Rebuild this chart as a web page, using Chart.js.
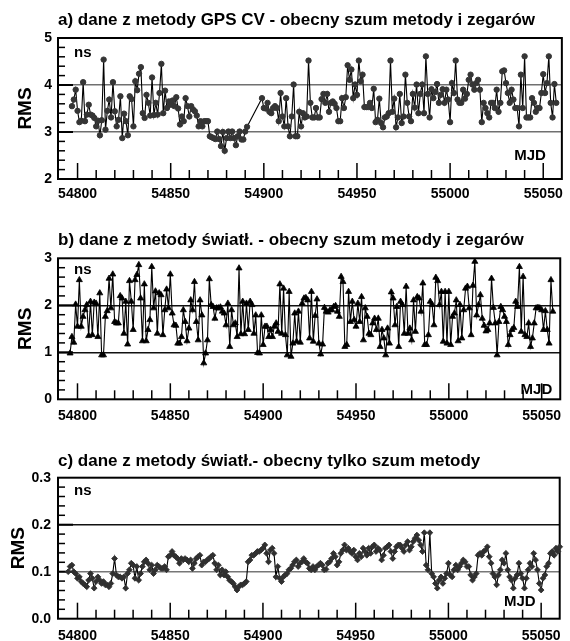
<!DOCTYPE html>
<html><head><meta charset="utf-8">
<script src="https://cdn.jsdelivr.net/npm/chart.js@4.4.1/dist/chart.umd.min.js"></script>
<style>
html,body{margin:0;padding:0;background:#fff;}
#wrap{position:relative;width:570px;height:641px;overflow:hidden;background:#fff;}
canvas{position:absolute;left:0;}
</style></head><body>
<div id="wrap">
<canvas id="cA" width="570" height="215" style="top:0px"></canvas>
<canvas id="cB" width="570" height="215" style="top:215px"></canvas>
<canvas id="cC" width="570" height="211" style="top:430px"></canvas>
</div>
<script>
// ---------- data ----------
const xTickLabels = [54800, 54850, 54900, 54950, 55000, 55050];
const yTicksA = [2, 3, 4, 5];
const yTicksB = [0, 1, 2, 3];
const yTicksC = [0.0, 0.1, 0.2, 0.3];

const titleA = 'a) dane z metody GPS CV - obecny szum metody i zegarów';
const titleB = 'b) dane z metody światł. - obecny szum metody i zegarów';
const titleC = 'c) dane z metody światł.- obecny tylko szum metody';

const mjdA = [
54797,54798,54799,54800,54801,54802,54803,54804,54805,54806,
54807,54808,54809,54810,54811,54812,54813,54814,54815,54816,
54817,54818,54819,54820,54821,54822,54823,54824,54825,54826,
54827,54828,54829,54830,54831,54832,54833,54834,54835,54836,
54837,54838,54839,54840,54841,54842,54843,54844,54845,54846,
54847,54848,54849,54850,54851,54852,54853,54854,54855,54856,
54857,54858,54859,54860,54861,54862,54863,54864,54865,54866,
54867,54868,54869,54870,54871,54872,54873,54874,54875,54876,
54877,54878,54879,54880,54881,54882,54883,54884,54885,54886,
54887,54888,54889,54890,54891,
54899,54900,54901,54902,54903,54904,54905,54906,54907,54908,
54909,54910,54911,54912,54913,54914,54915,54916,54917,54918,
54919,54920,54921,54922,54923,54924,
54925,54926,54927,54928,54929,54930,54931,54932,54933,54934,
54935,54936,54937,54938,54939,54940,54941,54942,54943,54944,
54945,54946,54947,54948,54949,54950,54951,54952,54953,54954,
54955,54956,54957,54958,54959,54960,54961,54962,54963,54964,
54965,54966,54967,54968,54969,54970,54971,54972,54973,54974,
54975,54976,54977,54978,54979,54980,54981,54982,54983,54984,
54985,54986,54987,54988,54989,54990,54991,54992,54993,54994,
54995,54996,54997,54998,54999,55000,55001,55002,55003,55004,
55005,55006,55007,55008,55009,55010,55011,55012,55013,55014,
55015,55016,55017,55018,55019,55020,55021,55022,55023,55024,
55025,55026,55027,55028,55029,55030,55031,55032,55033,55034,
55035,55036,55037,55038,55039,55040,55041,55042,55043,55044,
55045,55046,55047,55048,55049,55050,55051,55052,55053,55054,
55055,55056,55057];
const rmsA = [
3.55,3.69,3.90,3.45,3.21,3.24,4.06,3.23,3.37,3.58,
3.37,3.35,3.30,3.12,3.24,2.93,3.25,4.54,3.05,3.45,
3.69,3.31,4.06,3.44,3.12,3.26,3.76,2.87,3.39,3.23,
2.93,3.76,3.70,3.12,4.08,3.89,4.24,4.38,3.40,3.30,
3.79,3.62,3.35,4.16,3.36,3.62,3.37,3.83,4.45,3.40,
3.88,3.51,3.65,3.58,3.67,3.55,3.74,3.50,3.16,3.33,
3.23,3.72,3.55,3.33,3.55,3.48,3.44,3.35,3.12,3.23,
3.12,3.23,3.23,3.23,2.91,2.89,2.87,2.85,3.01,2.85,
2.70,3.00,2.60,2.87,3.01,2.87,3.01,2.87,2.72,2.91,
3.01,2.84,2.84,3.01,3.11,
3.72,3.51,3.50,3.62,3.43,3.40,3.51,3.55,3.51,3.23,
3.83,3.33,3.12,3.72,3.12,2.91,3.33,4.01,2.91,2.91,
3.43,3.12,3.40,3.31,3.33,4.52,
3.62,3.31,3.31,3.51,3.31,3.31,3.70,3.81,3.62,3.81,
3.43,3.62,3.65,3.60,3.51,3.23,3.23,3.72,3.51,3.74,
4.42,4.11,4.33,3.72,4.01,3.79,4.52,4.08,4.22,3.53,
3.53,3.53,3.62,3.51,3.92,3.21,3.26,3.71,3.19,3.10,
3.31,3.33,3.40,4.52,3.43,3.71,3.10,3.31,3.81,3.19,
3.33,4.22,3.62,3.33,3.23,3.81,3.52,4.01,3.40,3.81,
4.01,3.40,4.61,3.81,3.31,3.91,3.72,3.85,4.02,3.62,
3.79,3.91,3.62,3.90,3.69,3.21,4.04,3.83,4.52,3.69,
3.62,3.62,3.90,3.71,3.81,4.11,4.22,4.01,3.90,4.04,
4.11,3.90,3.21,3.62,3.51,3.40,3.31,3.62,3.62,3.51,
3.90,3.43,3.62,4.29,4.31,4.04,3.83,3.62,3.90,3.69,
3.51,3.51,3.12,4.22,3.51,4.61,3.31,3.31,3.31,3.72,
3.62,3.43,3.51,3.51,3.83,4.23,3.83,4.04,4.61,3.62,
3.31,4.02,3.62];

const mjdB = [
54796,54797,54798,54799,54800,54801,54802,54803,54804,54805,
54806,54807,54808,54809,54810,54811,54812,54813,54814,54815,
54816,54817,54818,54819,54820,54821,54822,54823,54824,54825,
54826,54827,54828,54829,54830,54831,54832,54833,54834,54835,
54836,54837,54838,54839,54840,54841,54842,54843,54844,54845,
54846,54847,54848,54849,54850,54851,54852,54853,54854,54855,
54856,54857,54858,54859,54860,54861,54862,54863,54864,54865,
54866,54867,54868,54869,54870,54871,54872,54873,54874,54875,
54876,54877,54878,54879,54880,54881,54882,54883,54884,54885,
54886,54887,54888,54889,54890,54891,54892,54893,54894,54895,
54896,54897,54898,54899,54900,54901,54902,54903,54904,54905,
54906,54907,54908,54909,54910,54911,54912,54913,54914,54915,
54916,54917,54918,54919,54920,54921,54922,54923,
54924,54925,54926,54927,54928,54929,54930,54931,54932,54933,
54934,54935,54936,54937,54938,54939,54940,54941,54942,54943,
54944,54945,54946,54947,54948,54949,54950,54951,54952,54953,
54954,54955,54956,54957,54958,54959,54960,54961,54962,54963,
54964,54965,54966,54967,54968,54969,54970,54971,54972,54973,
54974,54975,54976,54977,54978,54979,54980,54981,54982,54983,
54984,54985,54986,54987,54988,54989,54990,54991,54992,54993,
54994,54995,54996,54997,54998,54999,55000,55001,55002,55003,
55004,55005,55006,55007,55008,55009,55010,55011,55012,55013,
55014,55015,55016,55017,55018,55019,55020,55021,55022,55023,
55024,55025,55026,55027,55028,55029,55030,55031,55032,55033,
55034,55035,55036,55037,55038,55039,55040,55041,55042,55043,
55044,55045,55046,55047,55048,55049,55050,55051,55052,55053,
55054,55055,55056];
const rmsB = [
0.98,1.33,1.21,2.02,1.55,2.54,1.55,1.76,1.90,2.01,
1.35,2.08,1.37,2.06,2.04,1.33,2.26,0.94,0.94,1.76,
1.88,2.57,1.94,2.66,1.65,1.62,1.62,2.20,2.15,1.40,
2.08,1.17,2.52,2.08,1.48,2.54,2.65,2.86,2.15,1.24,
2.45,1.24,1.48,1.69,2.82,1.94,2.30,1.40,2.26,2.22,
1.37,1.90,2.34,1.94,2.66,1.83,1.58,1.57,1.19,1.19,
1.33,1.90,1.65,1.24,1.51,2.11,1.90,2.50,1.65,1.26,
2.11,1.79,0.77,0.98,1.26,2.56,2.01,1.97,1.72,1.94,
1.94,1.96,1.87,1.83,1.58,2.04,1.12,1.90,1.58,1.62,
1.33,2.79,1.39,2.08,1.39,2.04,1.48,2.08,2.01,1.40,
1.79,0.99,0.98,1.79,1.16,1.55,1.55,1.33,1.48,1.33,
1.55,1.62,1.44,2.45,1.40,2.36,1.37,0.94,2.29,0.91,
1.19,1.83,1.23,1.87,1.21,2.04,2.15,2.16,
2.11,1.30,2.29,1.23,1.78,2.13,1.19,0.96,1.17,1.95,
1.87,1.85,1.90,1.90,1.97,1.99,1.87,1.76,2.61,2.50,
1.12,1.16,2.29,1.65,2.08,1.69,1.55,2.04,1.65,2.18,
1.26,1.94,1.76,1.40,1.37,1.62,1.72,1.48,1.72,1.12,
1.48,1.30,0.94,1.51,1.19,2.28,2.15,1.58,1.97,1.12,
2.08,2.01,1.40,2.40,1.40,1.51,1.26,2.11,1.44,2.18,
2.15,1.87,2.47,1.16,1.16,1.37,2.08,2.01,1.58,2.59,
2.52,2.01,2.29,1.23,2.29,1.19,2.29,1.16,1.76,1.83,
2.11,1.24,2.01,1.30,1.90,2.36,2.40,1.94,1.37,2.42,
2.93,1.79,2.01,2.22,1.72,1.57,1.45,1.48,1.62,2.57,
1.95,1.62,0.94,1.65,1.97,1.90,1.76,1.65,1.16,1.37,
1.48,1.52,2.08,1.97,2.82,1.44,2.61,1.37,1.33,1.62,
1.12,1.30,1.62,1.94,1.95,1.94,1.90,1.48,1.88,1.48,
1.19,2.54,1.87];

const mjdC = [
54795,54796,54797,54798,54799,54800,54801,54802,54803,54804,
54805,54806,54807,54808,54809,54810,54811,54812,54813,54814,
54815,54816,54817,54818,54819,54820,54821,54822,54823,54824,
54825,54826,54827,54828,54829,54830,54831,54832,54833,54834,
54835,54836,54837,54838,54839,54840,54841,54842,54843,54844,
54845,54846,54847,54848,54849,54850,54851,54852,54853,54854,
54855,54856,54857,54858,54859,54860,54861,54862,54863,54864,
54865,54866,54867,54868,54869,54870,54871,54872,54873,54874,
54875,54876,54877,54878,54879,54880,54881,54882,54883,54884,
54885,54886,54887,54888,54889,54890,54891,54892,54893,54894,
54895,54896,54897,54898,54899,54900,54901,54902,54903,54904,
54905,54906,54907,54908,54909,54910,54911,54912,54913,54914,
54915,54916,54917,54918,54919,54920,54921,54922,54923,54924,
54925,
54926,54927,54928,54929,54930,54931,54932,54933,54934,54935,
54936,54937,54938,54939,54940,54941,54942,54943,54944,54945,
54946,54947,54948,54949,54950,54951,54952,54953,54954,54955,
54956,54957,54958,54959,54960,54961,54962,54963,54964,54965,
54966,54967,54968,54969,54970,54971,54972,54973,54974,54975,
54976,54977,54978,54979,54980,54981,54982,54983,54984,54985,
54986,54987,54988,54989,54990,
54991,54992,54993,54994,54995,54996,54997,54998,54999,55000,
55001,55002,55003,55004,55005,55006,55007,55008,55009,55010,
55011,55012,55013,55014,55015,55016,55017,55018,55019,55020,
55021,55022,55023,55024,55025,55026,55027,55028,55029,55030,
55031,55032,55033,55034,55035,55036,55037,55038,55039,55040,
55041,55042,55043,55044,55045,55046,55047,55048,55049,55050,
55051,55052,55053,55054,55055,55056,55057,55058,55059,55060];
const rmsC = [
0.100,0.111,0.114,0.100,0.096,0.086,0.089,0.079,0.075,0.072,
0.068,0.082,0.096,0.086,0.065,0.079,0.089,0.082,0.075,0.079,
0.072,0.072,0.068,0.075,0.096,0.128,0.093,0.089,0.089,0.086,
0.089,0.065,0.096,0.104,0.118,0.114,0.086,0.111,0.082,0.096,
0.111,0.121,0.125,0.118,0.104,0.114,0.096,0.104,0.114,0.111,
0.107,0.107,0.111,0.104,0.132,0.135,0.143,0.135,0.132,0.128,
0.118,0.128,0.125,0.128,0.125,0.121,0.125,0.107,0.118,0.128,
0.132,0.135,0.114,0.121,0.121,0.125,0.128,0.132,0.135,0.118,
0.104,0.114,0.093,0.104,0.093,0.100,0.089,0.082,0.079,0.075,
0.068,0.061,0.068,0.072,0.072,0.075,0.079,0.121,0.125,0.135,
0.135,0.139,0.143,0.143,0.146,0.150,0.157,0.139,0.121,0.146,
0.150,0.139,0.089,0.111,0.086,0.079,0.089,0.093,0.096,0.104,
0.107,0.114,0.121,0.125,0.111,0.118,0.121,0.128,0.121,0.118,
0.107,
0.104,0.111,0.104,0.111,0.114,0.118,0.114,0.104,0.105,0.118,
0.121,0.128,0.139,0.132,0.114,0.121,0.139,0.146,0.157,0.146,
0.150,0.143,0.139,0.146,0.132,0.125,0.139,0.132,0.150,0.143,
0.135,0.150,0.139,0.153,0.157,0.143,0.150,0.146,0.125,0.135,
0.150,0.153,0.157,0.143,0.128,0.143,0.153,0.157,0.157,0.150,
0.143,0.157,0.164,0.146,0.153,0.164,0.171,0.178,0.167,0.157,
0.143,0.183,0.114,0.104,0.183,
0.096,0.089,0.075,0.065,0.082,0.089,0.075,0.086,0.096,0.118,
0.093,0.089,0.104,0.114,0.104,0.111,0.118,0.125,0.121,0.111,
0.111,0.093,0.082,0.089,0.096,0.135,0.139,0.135,0.143,0.146,
0.153,0.132,0.118,0.096,0.089,0.072,0.093,0.104,0.125,0.118,
0.139,0.104,0.089,0.082,0.065,0.086,0.093,0.118,0.096,0.086,
0.065,0.086,0.104,0.118,0.111,0.139,0.125,0.104,0.075,0.061,
0.086,0.093,0.111,0.118,0.139,0.143,0.135,0.150,0.143,0.153];

// ---------- drawing ----------
const FONT = "'Liberation Sans', Arial, Helvetica, sans-serif";
Chart.defaults.font.family = FONT;
Chart.defaults.color = '#000';
const X_MIN = 54789.5, X_MAX = 55060;

const decor = {
  id: 'decor',
  beforeDatasetsDraw(chart, args, o) {
    const {ctx, chartArea: a, scales} = chart;
    const x = scales.x, y = scales.y;
    ctx.save();
    ctx.strokeStyle = '#000';
    const seg = (x1, y1, x2, y2, w) => { ctx.lineWidth = w; ctx.beginPath(); ctx.moveTo(x1, y1); ctx.lineTo(x2, y2); ctx.stroke(); };
    const yt = o.yTicks;
    for (let i = 0; i < yt.length - 1; i++) {
      const step = (yt[i + 1] - yt[i]) / 5;
      for (let k = 1; k < 5; k++) {
        const py = y.getPixelForValue(yt[i] + k * step);
        seg(a.left, py, a.left + 7, py, 1.5);
      }
      if (i > 0) { const py = y.getPixelForValue(yt[i]); seg(a.left, py, a.left + 15, py, 2); }
    }
    const first = xTickLabels[0], last = xTickLabels[xTickLabels.length - 1];
    for (let v = first; v <= last; v += 10) {
      const px = x.getPixelForValue(v);
      const len = ((v - first) % 50 === 0) ? 16 : 9;
      seg(px, a.bottom, px, a.bottom - len, 1.5);
    }
    ctx.lineWidth = 2;
    ctx.strokeRect(a.left, a.top, a.right - a.left, a.bottom - a.top);
    ctx.restore();
  },
  afterDatasetsDraw(chart, args, o) {
    const {ctx, chartArea: a} = chart;
    ctx.save();
    ctx.fillStyle = '#000';
    ctx.font = 'bold 15px ' + FONT;
    ctx.textBaseline = 'alphabetic';
    ctx.textAlign = 'left';
    ctx.fillText('ns', a.left + 16, a.top + o.nsDy);
    ctx.textAlign = 'right';
    ctx.fillText('MJD', a.right - o.mjdDx, a.bottom - o.mjdDy);
    ctx.restore();
  }
};

function panel(id, p) {
  const pts = p.mjd.map((m, i) => ({x: m, y: p.values[i]}));
  const yt = p.yTicks;
  return new Chart(document.getElementById(id), {
    type: 'line',
    data: { datasets: [{
      data: pts, borderColor: '#000', borderWidth: 1.1, tension: 0, fill: false,
      pointStyle: p.style, pointRadius: p.r, pointBorderWidth: p.bw,
      pointBackgroundColor: p.fill, pointBorderColor: p.fill, clip: 6
    }] },
    options: {
      responsive: false, animation: false, events: [],
      layout: { padding: {left: 0, right: 1, top: 0, bottom: 0}, autoPadding: false },
      plugins: {
        legend: {display: false}, tooltip: {enabled: false},
        title: { display: true, text: p.title, align: 'start', fullSize: false, color: '#000',
                 font: {size: 17, weight: 'bold'}, padding: p.titlePad },
        decor: { yTicks: yt, nsDy: p.nsDy, mjdDx: p.mjdDx, mjdDy: p.mjdDy }
      },
      scales: {
        x: {
          type: 'linear', min: X_MIN, max: X_MAX,
          afterBuildTicks: s => { s.ticks = xTickLabels.map(v => ({value: v})); },
          afterFit: s => { s.height = p.xh; },
          grid: {display: false, drawTicks: false}, border: {display: false},
          ticks: { font: {size: 14, weight: 'bold'}, color: '#000', padding: p.xpad,
                   maxRotation: 0, autoSkip: false, callback: v => String(v) }
        },
        y: {
          type: 'linear', min: yt[0], max: yt[yt.length - 1],
          afterBuildTicks: s => { s.ticks = yt.map(v => ({value: v})); },
          afterFit: s => { s.width = 58; },
          grid: { drawTicks: false, lineWidth: 1.5,
                  color: c => p.gridColors[c.index] || 'rgba(0,0,0,0)' },
          border: {display: false},
          ticks: { font: {size: 14, weight: 'bold'}, color: '#000', padding: p.ypad,
                   callback: v => p.fmt(v) },
          title: { display: true, text: 'RMS', color: '#000', font: {size: 19, weight: 'bold'},
                   padding: {top: p.rmsPad, bottom: 0} }
        }
      }
    },
    plugins: [decor]
  });
}

panel('cA', { mjd: mjdA, values: rmsA, yTicks: yTicksA, title: titleA,
  style: 'circle', r: 2.7, bw: 1, fill: '#353535',
  titlePad: {top: 10.6, bottom: 7.0}, xh: 36, xpad: 7, ypad: 6, rmsPad: 14.6,
  gridColors: [null, '#707070', '#707070', null], fmt: v => String(v),
  nsDy: 19, mjdDx: 16, mjdDy: 19 });
panel('cB', { mjd: mjdB, values: rmsB, yTicks: yTicksB, title: titleB,
  style: 'triangle', r: 3.5, bw: 0.8, fill: '#000',
  titlePad: {top: 14.9, bottom: 8.0}, xh: 30.7, xpad: 8.5, ypad: 6, rmsPad: 14.1,
  gridColors: [null, '#111', '#111', null], fmt: v => String(v),
  nsDy: 16, mjdDx: 8, mjdDy: 5 });
panel('cC', { mjd: mjdC, values: rmsC, yTicks: yTicksC, title: titleC,
  style: 'rectRot', r: 2.9, bw: 0.9, fill: '#303030',
  titlePad: {top: 21.4, bottom: 5.9}, xh: 22.3, xpad: 9, ypad: 7, rmsPad: 7.6,
  gridColors: [null, '#777', '#111', null], fmt: v => v.toFixed(1),
  nsDy: 17, mjdDx: 24, mjdDy: 12.7 });
</script>
</body></html>
